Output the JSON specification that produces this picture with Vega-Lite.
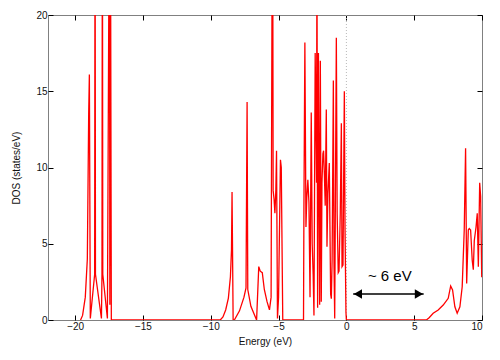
{
  "$schema": "https://vega.github.io/schema/vega-lite/v6.json",
  "width": 434,
  "height": 305,
  "autosize": {"type": "none"},
  "padding": {"left": 48, "top": 15, "right": 18, "bottom": 40},
  "background": "white",
  "config": {
    "view": {"stroke": "#808080", "strokeWidth": 1},
    "font": "Liberation Sans",
    "axis": {"grid": false, "domain": false, "tickColor": "#000", "labelColor": "#111", "titleColor": "#111", "labelFont": "Liberation Sans", "titleFont": "Liberation Sans", "labelFontSize": 10, "titleFontSize": 10, "titleFontWeight": "normal"}
  },
  "datasets": {
    "dos": [
      {"E": -19.6, "D": 0}, {"E": -19.45, "D": 0.3}, {"E": -19.25, "D": 1.5}, {"E": -19.1, "D": 4}, {"E": -19.0, "D": 13.5}, {"E": -18.95, "D": 16.1}, {"E": -18.88, "D": 0.1},
      {"E": -18.56, "D": 3}, {"E": -18.53, "D": 30}, {"E": -18.5, "D": 3}, {"E": -18.06, "D": 0.1},
      {"E": -18.02, "D": 3}, {"E": -17.99, "D": 30}, {"E": -17.96, "D": 3}, {"E": -17.62, "D": 0.1},
      {"E": -17.47, "D": 30}, {"E": -17.44, "D": 1}, {"E": -17.4, "D": 30}, {"E": -17.33, "D": 0},
      {"E": -9.3, "D": 0}, {"E": -9.1, "D": 0.2}, {"E": -8.9, "D": 0.66}, {"E": -8.7, "D": 1.44}, {"E": -8.55, "D": 2.84}, {"E": -8.47, "D": 4.6}, {"E": -8.43, "D": 8.4}, {"E": -8.35, "D": 0},
      {"E": -8.26, "D": 0}, {"E": -7.88, "D": 0.6}, {"E": -7.55, "D": 1.5}, {"E": -7.4, "D": 2.1}, {"E": -7.32, "D": 14.3}, {"E": -7.27, "D": 2.0}, {"E": -7.04, "D": 0.9}, {"E": -6.62, "D": 0},
      {"E": -6.46, "D": 3.5}, {"E": -6.35, "D": 3.2}, {"E": -6.2, "D": 3.1}, {"E": -6.05, "D": 2.0}, {"E": -5.85, "D": 1.2}, {"E": -5.67, "D": 0.66}, {"E": -5.55, "D": 1.5},
      {"E": -5.47, "D": 25}, {"E": -5.43, "D": 25}, {"E": -5.4, "D": 8.5}, {"E": -5.33, "D": 7.9}, {"E": -5.27, "D": 7.0}, {"E": -5.2, "D": 8.5}, {"E": -5.15, "D": 11.1}, {"E": -5.08, "D": 0.1},
      {"E": -5.0, "D": 1.5}, {"E": -4.86, "D": 10.5}, {"E": -4.8, "D": 10.0}, {"E": -4.69, "D": 0},
      {"E": -3.16, "D": 0}, {"E": -3.13, "D": 7.4}, {"E": -3.06, "D": 18.2}, {"E": -2.98, "D": 6.1}, {"E": -2.92, "D": 8.0}, {"E": -2.84, "D": 9.2}, {"E": -2.76, "D": 7.7}, {"E": -2.68, "D": 1.5},
      {"E": -2.59, "D": 13.6}, {"E": -2.52, "D": 5.0}, {"E": -2.45, "D": 3.0}, {"E": -2.39, "D": 0.3}, {"E": -2.3, "D": 17.5}, {"E": -2.2, "D": 9.0}, {"E": -2.17, "D": 25}, {"E": -2.12, "D": 0.8},
      {"E": -2.06, "D": 17.5}, {"E": -2.02, "D": 10}, {"E": -1.97, "D": 1.0}, {"E": -1.92, "D": 17.0}, {"E": -1.85, "D": 1.2}, {"E": -1.8, "D": 9.0}, {"E": -1.73, "D": 10.9}, {"E": -1.68, "D": 11.1},
      {"E": -1.62, "D": 9.5}, {"E": -1.56, "D": 7.5}, {"E": -1.48, "D": 13.8}, {"E": -1.43, "D": 4.8}, {"E": -1.36, "D": 8.3}, {"E": -1.26, "D": 10.3}, {"E": -1.16, "D": 1.7}, {"E": -1.11, "D": 1.4},
      {"E": -1.05, "D": 4.0}, {"E": -0.96, "D": 15.7}, {"E": -0.91, "D": 3.5}, {"E": -0.86, "D": 0.1}, {"E": -0.74, "D": 18.5}, {"E": -0.68, "D": 7.0}, {"E": -0.6, "D": 3.1}, {"E": -0.54, "D": 3.2},
      {"E": -0.45, "D": 7.0}, {"E": -0.37, "D": 12.9}, {"E": -0.32, "D": 3.5}, {"E": -0.25, "D": 3.6}, {"E": -0.15, "D": 15.0}, {"E": -0.1, "D": 6.0}, {"E": -0.03, "D": 0.5}, {"E": 0, "D": 0},
      {"E": 5.9, "D": 0}, {"E": 6.1, "D": 0.15}, {"E": 6.4, "D": 0.44}, {"E": 6.77, "D": 0.66}, {"E": 7.14, "D": 0.98}, {"E": 7.51, "D": 1.42}, {"E": 7.69, "D": 2.23}, {"E": 7.83, "D": 1.97},
      {"E": 8.0, "D": 0.87}, {"E": 8.17, "D": 0.44}, {"E": 8.37, "D": 0.87}, {"E": 8.54, "D": 2.18}, {"E": 8.69, "D": 5.9}, {"E": 8.79, "D": 11.26}, {"E": 8.87, "D": 2.4}, {"E": 8.99, "D": 5.9},
      {"E": 9.06, "D": 6.0}, {"E": 9.16, "D": 5.9}, {"E": 9.28, "D": 3.9}, {"E": 9.36, "D": 3.3}, {"E": 9.43, "D": 5.2}, {"E": 9.56, "D": 6.1}, {"E": 9.65, "D": 7.0}, {"E": 9.73, "D": 3.5},
      {"E": 9.83, "D": 9.0}, {"E": 9.9, "D": 8.1}, {"E": 9.98, "D": 2.8}
    ]
  },
  "resolve": {"axis": {"x": "independent", "y": "independent"}},
  "layer": [
    {
      "data": {"values": [{"E": 0}]},
      "mark": {"type": "rule", "color": "#b8b8b8", "strokeWidth": 1, "strokeDash": [1, 2]},
      "encoding": {"x": {"field": "E", "type": "quantitative", "axis": null}}
    },
    {
      "data": {"name": "dos"},
      "mark": {"type": "line", "color": "#ff0000", "strokeWidth": 1.3, "clip": true, "interpolate": "linear"},
      "encoding": {
        "x": {"field": "E", "type": "quantitative", "sort": null, "scale": {"domain": [-22, 10], "nice": false, "zero": false},
              "axis": {"orient": "bottom", "title": "Energy (eV)", "values": [-20, -15, -10, -5, 0, 5, 10], "tickSize": -5, "labelPadding": 6, "titlePadding": 5}},
        "y": {"field": "D", "type": "quantitative", "scale": {"domain": [0, 20], "nice": false},
              "axis": {"orient": "left", "title": "DOS (states/eV)", "values": [0, 5, 10, 15, 20], "tickSize": -5, "labelPadding": 6, "titlePadding": 14}}
      }
    },
    {
      "data": {"values": [{"a": 0.5, "b": 5.7, "y": 1.7}]},
      "mark": {"type": "rule", "color": "#000", "strokeWidth": 1.5},
      "encoding": {
        "x": {"field": "a", "type": "quantitative", "axis": null},
        "x2": {"field": "b"},
        "y": {"field": "y", "type": "quantitative", "axis": null}
      }
    },
    {
      "data": {"values": [{"x": 0.85, "y": 1.7, "s": "triangle-left"}, {"x": 5.35, "y": 1.7, "s": "triangle-right"}]},
      "mark": {"type": "point", "filled": true, "color": "#000", "opacity": 1, "size": 90},
      "encoding": {
        "x": {"field": "x", "type": "quantitative", "axis": null},
        "y": {"field": "y", "type": "quantitative", "axis": null},
        "shape": {"field": "s", "type": "nominal", "scale": null, "legend": null}
      }
    },
    {
      "data": {"values": [{"x": 3.2, "y": 2.9, "t": "~ 6 eV"}]},
      "mark": {"type": "text", "font": "Liberation Sans", "fontSize": 15, "color": "#000", "align": "center", "baseline": "middle"},
      "encoding": {
        "x": {"field": "x", "type": "quantitative", "axis": null},
        "y": {"field": "y", "type": "quantitative", "axis": null},
        "text": {"field": "t"}
      }
    },
    {
      "data": {"values": [{"x": 0, "y": 0}]},
      "mark": {"type": "point", "opacity": 0},
      "encoding": {
        "x": {"field": "x", "type": "quantitative", "axis": {"orient": "top", "title": null, "labels": false, "values": [-20, -15, -10, -5, 0, 5, 10], "tickSize": -5}},
        "y": {"field": "y", "type": "quantitative", "axis": {"orient": "right", "title": null, "labels": false, "values": [0, 5, 10, 15, 20], "tickSize": -5}}
      }
    }
  ]
}
